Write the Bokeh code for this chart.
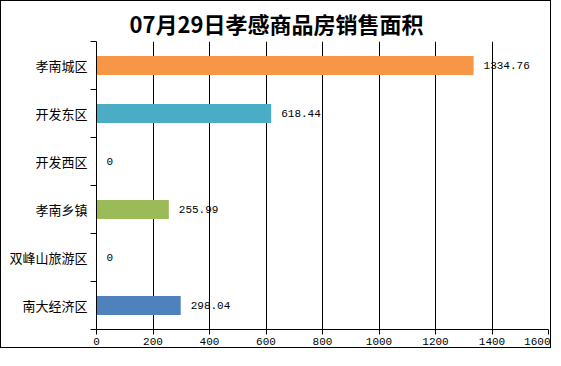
from bokeh.plotting import figure
from bokeh.models import ColumnDataSource, FixedTicker, Range1d, LabelSet
from bokeh.embed import file_html
from bokeh.resources import INLINE
from bokeh.core.properties import value

title = "07月29日孝感商品房销售面积"
districts = ["孝南城区", "开发东区", "开发西区", "孝南乡镇", "双峰山旅游区", "南大经济区"]
areas = [1334.76, 618.44, 0, 255.99, 0, 298.04]
area_labels = ["1334.76", "618.44", "0", "255.99", "0", "298.04"]
colors = ["#F79646", "#4BACC6", "#C0504D", "#9BBB59", "#8064A2", "#4F81BD"]
x_ticks = [0, 200, 400, 600, 800, 1000, 1200, 1400, 1600]

n = len(districts)
ys = [n - i - 0.5 for i in range(n)]
boundaries = list(range(n + 1))

src = ColumnDataSource(dict(y=ys, area=areas, label=area_labels, color=colors, name=districts))

p = figure(width=551, height=348, output_backend="svg", toolbar_location=None,
           x_range=Range1d(0, x_ticks[-1]), y_range=Range1d(0, n),
           min_border_left=95, min_border_right=4, min_border_top=37, min_border_bottom=20)
p.styles = {"border": "1px solid #000"}
p.outline_line_color = None
p.background_fill_color = "white"
p.border_fill_color = "white"

p.title.text = title
p.title.align = "left"
p.title.offset = 33
p.title.text_font = "Noto Sans CJK SC"
p.title.text_font_size = "22px"
p.title.text_font_style = "bold"
p.title.text_color = "#000000"
p.title.standoff = 6

p.hbar(y="y", left=0, right="area", height=0.4, color="color", line_color=None, source=src)

labels = LabelSet(x="area", y="y", text="label", source=src, x_offset=10,
                  text_baseline="middle", text_align="left",
                  text_font=value("Liberation Mono"), text_font_size="11px", text_color="#000000")
p.add_layout(labels)

p.xaxis.ticker = FixedTicker(ticks=x_ticks)
p.xaxis.axis_line_color = "black"
p.xaxis.major_tick_line_color = "black"
p.xaxis.major_tick_out = 5
p.xaxis.major_tick_in = 0
p.xaxis.minor_tick_line_color = None
p.xaxis.major_label_text_font = "Liberation Mono"
p.xaxis.major_label_text_font_size = "11px"
p.xaxis.major_label_text_color = "black"
p.xaxis.major_label_standoff = 3

p.yaxis.ticker = FixedTicker(ticks=ys, minor_ticks=boundaries)
p.yaxis.axis_line_color = "black"
p.yaxis.major_tick_line_color = None
p.yaxis.major_tick_out = 0
p.yaxis.major_tick_in = 0
p.yaxis.minor_tick_line_color = "black"
p.yaxis.minor_tick_out = 6
p.yaxis.minor_tick_in = 0
p.yaxis.major_label_overrides = {y: d for y, d in zip(ys, districts)}
p.yaxis.major_label_text_font = "Noto Sans CJK SC"
p.yaxis.major_label_text_font_size = "13px"
p.yaxis.major_label_text_color = "black"
p.yaxis.major_label_standoff = 3

p.xgrid.grid_line_color = "black"
p.xgrid.grid_line_width = 1
p.ygrid.grid_line_color = None

open("out.html", "w").write(file_html(p, INLINE))
